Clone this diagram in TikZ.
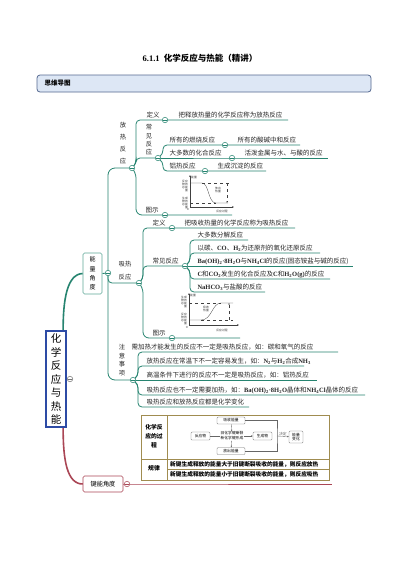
\documentclass[tikz,border=0pt]{standalone}
\usepackage{fontspec}
\setmainfont{Noto Sans CJK SC}
\newfontfamily\lser{Liberation Serif}
\usetikzlibrary{backgrounds,arrows.meta}
\pgfdeclarelayer{paper}
\pgfsetlayers{paper,background,main}
\definecolor{tl}{RGB}{38,132,112}
\definecolor{tll}{RGB}{95,168,152}
\definecolor{bl}{RGB}{45,75,165}
\definecolor{pk}{RGB}{170,70,85}
\definecolor{ol}{RGB}{160,140,80}
\definecolor{hdf}{RGB}{221,231,245}
\definecolor{hdd}{RGB}{85,105,145}
\newcommand\chem[1]{{\lser\bfseries #1}}
\newcommand\sbs[1]{\textsubscript{#1}}
\begin{document}
\begin{tikzpicture}[x=1pt,y=-1pt,
  cir/.style={circle,draw=#1,fill=white,line width=0.5pt,minimum size=5.5pt,inner sep=0pt,
    path picture={\draw[#1,line width=0.45pt] ([xshift=-1.6pt]path picture bounding box.center) -- ([xshift=1.6pt]path picture bounding box.center);}},
  cir/.default=tl,
  tx/.style={font=\fontsize{6.5}{7}\selectfont,inner sep=0.3pt,anchor=south west,text=black!85},
  vl/.style={font=\fontsize{6.3}{#1}\selectfont,inner sep=0pt,align=center,text=black!85},
  br/.style={draw=tl,line width=0.8pt,rounded corners=4pt},
  gt/.style={font=\fontsize{2.8}{3.1}\selectfont,inner sep=0pt,text=black!80},
  gln/.style={draw=black!75,line width=0.3pt},
  sbox/.style={draw=black!55,line width=0.35pt,rounded corners=1pt,fill=white,inner sep=0pt,font=\fontsize{3.8}{4.4}\selectfont,align=center}
]
\useasboundingbox (0,0) rectangle (400,566);
\begin{pgfonlayer}{paper}
\fill[white] (0,0) rectangle (400,566);
\end{pgfonlayer}

% title and header
\node[font=\fontsize{8.5}{10}\selectfont\bfseries] (title) at (200,58) {{\lser 6.1.1}\enspace 化学反应与热能（精讲）};
\node[draw=hdd,fill=hdf,rounded corners=3pt,line width=0.8pt,minimum width=334pt,minimum height=17pt,inner sep=0pt] (hdr) at (204,83.5) {};
\node[anchor=west,font=\fontsize{6.5}{7}\selectfont\bfseries] (hdrt) at (41,83.5) {思维导图};

% root
\node[draw=bl,line width=1.3pt,minimum width=20pt,minimum height=96pt,inner sep=0pt,align=center,font=\fontsize{10.5}{13.5}\selectfont,fill=white] (root) at (56,379) {化\\学\\反\\应\\与\\热\\能};
\node[cir=black!55] (rc) at (70,379) {};

% level 1
\node[draw=tll,line width=0.6pt,rounded corners=1.5pt,minimum width=19pt,minimum height=41pt,inner sep=0pt,align=center,font=\fontsize{6}{9.3}\selectfont,fill=white] (nl) at (92.5,273.5) {能\\量\\角\\度};
\node[draw=pk,line width=0.6pt,rounded corners=1.5pt,minimum width=40pt,minimum height=16pt,inner sep=0pt,fill=white,font=\fontsize{6.2}{7}\selectfont] (nj) at (103,484) {键能角度};
\node[cir] (nE) at (108,273) {};
\node[cir=pk] (nJc) at (127,484) {};

% circles
\node[cir] (cF) at (132,168) {};
\node[cir] (cFd) at (165,120) {};
\node[cir] (cFc) at (158,158) {};
\node[cir] (cFc1) at (225,145) {};
\node[cir] (cFc2) at (232,158) {};
\node[cir] (cFc3) at (205,171) {};
\node[cir] (cFt) at (165,215) {};
\node[cir] (cX) at (139,283) {};
\node[cir] (cXd) at (172,228) {};
\node[cir] (cXc) at (185,266) {};
\node[cir] (cXt) at (172,338) {};
\node[cir] (cZ) at (133,380) {};

% end coordinates
\coordinate (eFd) at (288,120);
\coordinate (eF1) at (300,145);
\coordinate (eF2) at (328,158);
\coordinate (eF3) at (266,171);
\coordinate (eFt) at (232,215);
\coordinate (eXd) at (295,228);
\coordinate (eX1) at (248,240);
\coordinate (eX2) at (320,253);
\coordinate (eX3) at (353,266);
\coordinate (eX4) at (330,279);
\coordinate (eX5) at (265,292);
\coordinate (eXt) at (240,338);
\coordinate (eZ1) at (338,352);
\coordinate (eZ2) at (304,366);
\coordinate (eZ3) at (317,380);
\coordinate (eZ4) at (365,395);
\coordinate (eZ5) at (249,407);
\coordinate (eJ) at (332,484);

% labels: exothermic
\node[vl=12] (fl) at (123,143) {放\\热\\反\\应};
\node[tx] (fdl) at (146,119) {定义};
\node[tx] (fdt) at (178,119) {把释放热量的化学反应称为放热反应};
\node[vl=8.3] (fcl) at (149,140) {常\\见\\反\\应};
\node[tx] (fc1) at (169,144) {所有的燃烧反应};
\node[tx] (fc1b) at (237,144) {所有的酸碱中和反应};
\node[tx] (fc2) at (169,157) {大多数的化合反应};
\node[tx] (fc2b) at (244,157) {活泼金属与水、与酸的反应};
\node[tx] (fc3) at (169,170) {铝热反应};
\node[tx] (fc3b) at (217,170) {生成沉淀的反应};
\node[tx] (ftl) at (145,214) {图示};

% labels: endothermic
\node[vl=13] (xl) at (125,270.5) {吸热\\反应};
\node[tx] (xdl) at (152,227) {定义};
\node[tx] (xdt) at (184,227) {把吸收热量的化学反应称为吸热反应};
\node[tx] (xcl) at (152,265) {常见反应};
\node[tx] (xc1) at (197,239) {大多数分解反应};
\node[tx] (xc2) at (197,252) {以碳、\chem{CO}、\chem{H\sbs{2}}为还原剂的氧化还原反应};
\node[tx] (xc3) at (197,265) {\chem{Ba(OH)\sbs{2}·8H\sbs{2}O}与\chem{NH\sbs{4}Cl}的反应(固态铵盐与碱的反应)};
\node[tx] (xc4) at (197,278) {\chem{C}和\chem{CO\sbs{2}}发生的化合反应及\chem{C}和\chem{H\sbs{2}O(g)}的反应};
\node[tx] (xc5) at (197,291) {\chem{NaHCO\sbs{3}}与盐酸的反应};
\node[tx] (xtl) at (152,337) {图示};

% labels: notes
\node[vl=8.8] (zl) at (122,360) {注\\意\\事\\项};
\node[tx] (z1) at (131,351) {需加热才能发生的反应不一定是吸热反应，如：碳和氧气的反应};
\node[tx] (z2) at (146,365) {放热反应在常温下不一定容易发生，如：\chem{N\sbs{2}}与\chem{H\sbs{2}}合成\chem{NH\sbs{3}}};
\node[tx] (z3) at (146,379) {高温条件下进行的反应不一定是吸热反应，如：铝热反应};
\node[tx] (z4) at (146,394) {吸热反应也不一定需要加热，如：\chem{Ba(OH)\sbs{2}·8H\sbs{2}O}晶体和\chem{NH\sbs{4}Cl}晶体的反应};
\node[tx] (z5) at (146,406) {吸热反应和放热反应都是化学变化};

% graph 1 (exothermic)
\draw[gln,-{Stealth[length=2pt,width=1.6pt]}] (190,207) -- (190,175);
\draw[gln,-{Stealth[length=2pt,width=1.6pt]}] (190,207) -- (234,207);
\node[gt,anchor=west] (g1e) at (191,177) {能量};
\node[gt] (g1p) at (222,211) {反应过程};
\node[gt] (g1o) at (188,209.5) {O};
\node[gt,align=right,anchor=east] (g1a) at (188,186) {反应\\物的\\总能\\量};
\node[gt,align=right,anchor=east] (g1b) at (188,203) {生成\\物的\\总能\\量};
\draw[gln] (190,183) -- (202,183) .. controls (209,183) and (208,203) .. (216,203) -- (228,203);
\draw[gln,dashed] (202,183) -- (230,183);
\draw[gln,dashed] (190,203) -- (216,203);
\draw[gln,dashed,-{Stealth[length=1.8pt,width=1.4pt]}] (227,183) -- (227,203);
\node[gt,align=center] (g1h) at (218,190) {放出\\热量};

% graph 2 (endothermic)
\draw[gln,-{Stealth[length=2pt,width=1.6pt]}] (189,325) -- (189,293);
\draw[gln,-{Stealth[length=2pt,width=1.6pt]}] (189,325) -- (239,325);
\node[gt,anchor=west] (g2e) at (190,295) {能量};
\node[gt] (g2p) at (222,330) {反应过程};
\node[gt] (g2o) at (187,327.5) {O};
\node[gt,align=right,anchor=east] (g2a) at (187,302) {生成\\物的\\总能\\量};
\node[gt,align=right,anchor=east] (g2b) at (187,319) {反应\\物的\\总能\\量};
\draw[gln] (189,320) -- (201,320) .. controls (212,320) and (212,303) .. (221,303) -- (233,303);
\draw[gln,dashed] (189,303) -- (221,303);
\draw[gln,dashed] (201,320) -- (233,320);
\draw[gln,dashed,-{Stealth[length=1.8pt,width=1.4pt]}] (229,320) -- (229,303);
\node[gt,align=center] (g2h) at (206,309) {吸收\\热量};

% table
\node[draw=ol,line width=0.8pt,minimum width=188pt,minimum height=65pt,inner sep=0pt,fill=white] (tab) at (235,447.5) {};
\draw[ol,line width=0.6pt] (167,415) -- (167,480);
\draw[ol,line width=0.6pt] (141,459) -- (329,459);
\draw[ol,line width=0.5pt] (167,469) -- (329,469);
\node[align=center,font=\fontsize{5.8}{8.8}\selectfont\bfseries,inner sep=0pt] (tl1) at (154,436) {化学反\\应的过\\程};
\node[font=\fontsize{5.8}{7}\selectfont\bfseries,inner sep=0pt] (tl2) at (154,468) {规律};
\node[anchor=west,font=\fontsize{5.7}{7}\selectfont\bfseries,inner sep=0pt] (tr1) at (170,464) {新键生成释放的能量大于旧键断裂吸收的能量，则反应放热};
\node[anchor=west,font=\fontsize{5.7}{7}\selectfont\bfseries,inner sep=0pt] (tr2) at (170,474.5) {新键生成释放的能量小于旧键断裂吸收的能量，则反应吸热};

\node[sbox,minimum width=28pt,minimum height=7pt] (d1) at (231,420.5) {吸收能量};
\node[sbox,minimum width=19pt,minimum height=8pt] (d2) at (200.5,436) {反应物};
\node[sbox,minimum width=19pt,minimum height=8pt] (d3) at (262.5,436) {生成物};
\node[sbox,minimum width=28pt,minimum height=7pt] (d4) at (231,451) {放出能量};
\node[sbox,minimum width=14pt,minimum height=12pt] (d5) at (296,437) {能量\\变化};
\coordinate (jn) at (277,436);
\draw[black!60,line width=0.35pt,-{Stealth[length=1.8pt,width=1.5pt]}] (d2) -- (d3);
\node[fill=white,inner sep=0.3pt,font=\fontsize{3.8}{5}\selectfont,align=center] (dm) at (232,436) {旧化学键断裂\\新化学键形成};
\draw[black!60,line width=0.35pt,-{Stealth[length=1.5pt,width=1.3pt]}] (d1) -- (dm);
\draw[black!60,line width=0.35pt,-{Stealth[length=1.5pt,width=1.3pt]}] (dm) -- (d4);
\draw[black!60,line width=0.35pt] (d1.east) -| (jn) |- (d4.east);
\draw[black!60,line width=0.35pt,-{Stealth[length=1.8pt,width=1.5pt]}] (jn) -- node[above=0.3pt,inner sep=0pt,font=\fontsize{3.8}{4.4}\selectfont] (jd) {决定} (d5);

% connectors on background
\begin{pgfonlayer}{background}
\draw[tl,line width=1.6pt] ([xshift=-3.5pt]root.north east) .. controls (63,300) and (67,274) .. (nl.west);
\draw[pk,line width=1.6pt] ([xshift=-3.5pt]root.south east) .. controls (63,460) and (67,484) .. (nj.west);
\draw[tl,line width=0.8pt] (nl.east) -- (nE.center);
\draw[pk,line width=0.8pt] (nj.east) -- (nJc.center) -- (eJ);
\draw[br,rounded corners=7pt] (nE.center) |- (cF.center);
\draw[br] (nE.center) |- (cX.center);
\draw[br,rounded corners=7pt] (nE.center) |- (cZ.center);
% exothermic
\draw[br] (cF.center) -- (136,164) -- (136,120) -- (cFd.center) -- (eFd);
\draw[br] (cF.center) -- (136,164) -- (136,158) -- (cFc.center);
\draw[br,rounded corners=6pt] (cF.center) -- (136,172) -- (136,215) -- (cFt.center) -- (eFt);
\draw[br] (cFc.center) -- (163,154) -- (163,145) -- (cFc1.center) -- (eF1);
\draw[br] (cFc.center) -- (cFc2.center) -- (eF2);
\draw[br] (cFc.center) -- (163,162) -- (163,171) -- (cFc3.center) -- (eF3);
% endothermic
\draw[br] (cX.center) -- (143,279) -- (143,228) -- (cXd.center) -- (eXd);
\draw[br] (cX.center) -- (143,279) -- (143,266) -- (cXc.center);
\draw[br,rounded corners=6pt] (cX.center) -- (143,287) -- (143,338) -- (cXt.center) -- (eXt);
\draw[br] (cXc.center) -- (190,262) -- (190,240) -- (eX1);
\draw[br] (cXc.center) -- (190,262) -- (190,253) -- (eX2);
\draw[br] (cXc.center) -- (eX3);
\draw[br] (cXc.center) -- (190,270) -- (190,279) -- (eX4);
\draw[br] (cXc.center) -- (190,270) -- (190,292) -- (eX5);
% notes
\draw[br] (cZ.center) -- (138,376) -- (138,352) -- (eZ1);
\draw[br] (cZ.center) -- (138,376) -- (138,366) -- (eZ2);
\draw[br] (cZ.center) -- (eZ3);
\draw[br] (cZ.center) -- (138,384) -- (138,395) -- (eZ4);
\draw[br] (cZ.center) -- (138,384) -- (138,407) -- (eZ5);
\end{pgfonlayer}
\end{tikzpicture}
\end{document}
